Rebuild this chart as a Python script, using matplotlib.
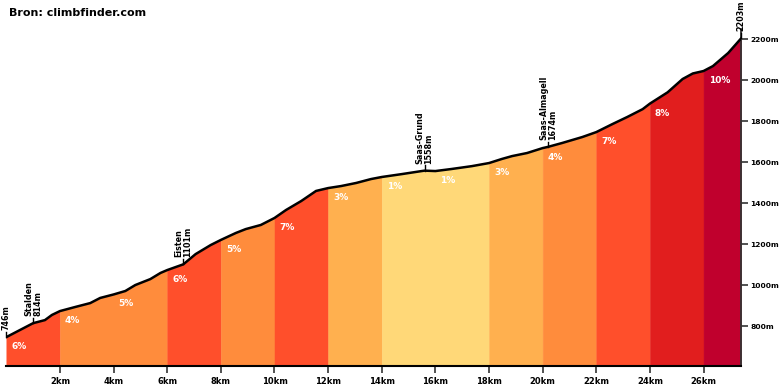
import numpy as np
import matplotlib
matplotlib.use('Agg')
import matplotlib.pyplot as plt

# hoogteprofiel (km, m)
afstand = [0, 0.5, 1.0, 1.44, 1.7, 2.0, 2.57, 3.13, 3.5, 4.0, 4.44, 4.81, 5.37, 5.75, 6.0,
           6.6, 7.06, 7.62, 8.0, 8.56, 8.93, 9.49, 10.0, 10.43, 11.0, 11.55, 12.0, 12.49,
           13.05, 13.6, 14.0, 14.74, 15.49, 15.6, 16.0, 16.6, 17.36, 18.0, 18.48, 18.86,
           19.42, 20.0, 20.2, 20.73, 21.48, 22.0, 22.6, 23.16, 23.73, 24.0, 24.66, 25.22,
           25.6, 26.0, 26.35, 26.92, 27.4]
hoogte = [746, 780, 814, 829, 854, 873, 893, 912, 937, 954, 971, 1000, 1029, 1059, 1073,
          1101, 1151, 1195, 1220, 1254, 1273, 1293, 1327, 1366, 1410, 1459, 1473, 1483,
          1498, 1517, 1527, 1541, 1556, 1558, 1556, 1566, 1580, 1595, 1615, 1629,
          1644, 1668, 1674, 1693, 1722, 1746, 1785, 1820, 1858, 1885, 1940, 2005,
          2032, 2044, 2068, 2132, 2203]

# stukken per 2 km met stijgingspercentage
stuk_start = [0, 2, 4, 6, 8, 10, 12, 14, 16, 18, 20, 22, 24, 26]
stuk_procent = [6, 4, 5, 6, 5, 7, 3, 1, 1, 3, 4, 7, 8, 10]

# plaatsen onderweg
plaats_km = [0, 1.0, 6.6, 15.6, 20.2, 27.4]
plaats_naam = ['', 'Stalden', 'Eisten', 'Saas-Grund', 'Saas-Almagell', '']
plaats_hoogte = [746, 814, 1101, 1558, 1674, 2203]

km_ticks = [2, 4, 6, 8, 10, 12, 14, 16, 18, 20, 22, 24, 26]
m_ticks = [800, 1000, 1200, 1400, 1600, 1800, 2000, 2200]


def kleur(p):
    if p <= 2:
        return '#FFD878'
    if p <= 3:
        return '#FFB04F'
    if p <= 5:
        return '#FF8C3C'
    if p <= 7:
        return '#FF4F2B'
    if p <= 9:
        return '#E11E1E'
    return '#C0002D'


fig = plt.figure(figsize=(7.8, 3.9), dpi=100)
ax = fig.add_axes([0.0081, 0.0615, 0.942, 0.8647])
ymin, ymax = 605, 2250
eind = afstand[-1]
ax.set_xlim(0, eind)
ax.set_ylim(ymin, ymax)

x = np.array(afstand)
y = np.array(hoogte)
grenzen = stuk_start + [eind]

# aaneengesloten stukken met dezelfde kleur samen vullen (geen naden)
i = 0
while i < len(stuk_procent):
    j = i
    while j + 1 < len(stuk_procent) and kleur(stuk_procent[j + 1]) == kleur(stuk_procent[i]):
        j += 1
    a, b = grenzen[i], grenzen[j + 1]
    binnen = (x > a) & (x < b)
    xs = np.concatenate([[a], x[binnen], [b]])
    ys = np.interp(xs, x, y)
    c = kleur(stuk_procent[i])
    ax.fill_between(xs, ymin, ys, color=c, lw=0.3, ec=c)
    i = j + 1

for a, p in zip(stuk_start, stuk_procent):
    ax.text(a + 0.19, np.interp(a, x, y) - 46, f'{p}%', color='white', fontsize=6.5,
            fontweight='bold', ha='left', va='center')

ax.plot(x, y, color='black', lw=1.8, solid_capstyle='round', zorder=5)

for km, naam, h in zip(plaats_km, plaats_naam, plaats_hoogte):
    ax.plot([km, km], [h, h + 26], color='black', lw=1, zorder=6, clip_on=False)
    tekst = f'{naam}\n{h}m' if naam else f'{h}m'
    ax.text(km, h + 34, tekst, rotation=90, ha='center', va='bottom', multialignment='left',
            fontsize=5.8, fontweight='bold', linespacing=1.0, clip_on=False, zorder=6)

for kant in ['top', 'left']:
    ax.spines[kant].set_visible(False)
ax.spines['bottom'].set_linewidth(1.5)
ax.spines['right'].set_color('#333333')
ax.spines['right'].set_linewidth(1.3)

ax.set_xticks(km_ticks)
ax.set_xticklabels([f'{k}km' for k in km_ticks])
ax.yaxis.tick_right()
ax.set_yticks(m_ticks)
ax.set_yticklabels([f'{m}m' for m in m_ticks])
ax.tick_params(axis='x', length=5, width=1.2, color='#333333', labelsize=6, pad=3)
ax.tick_params(axis='y', length=5, width=1.2, color='#333333', labelsize=5.4, pad=1.5)
for lab in ax.get_xticklabels() + ax.get_yticklabels():
    lab.set_fontweight('bold')

fig.text(0.011, 0.966, 'Bron: climbfinder.com', fontsize=8, fontweight='bold', va='center')

fig.savefig('out.png', dpi=100)
